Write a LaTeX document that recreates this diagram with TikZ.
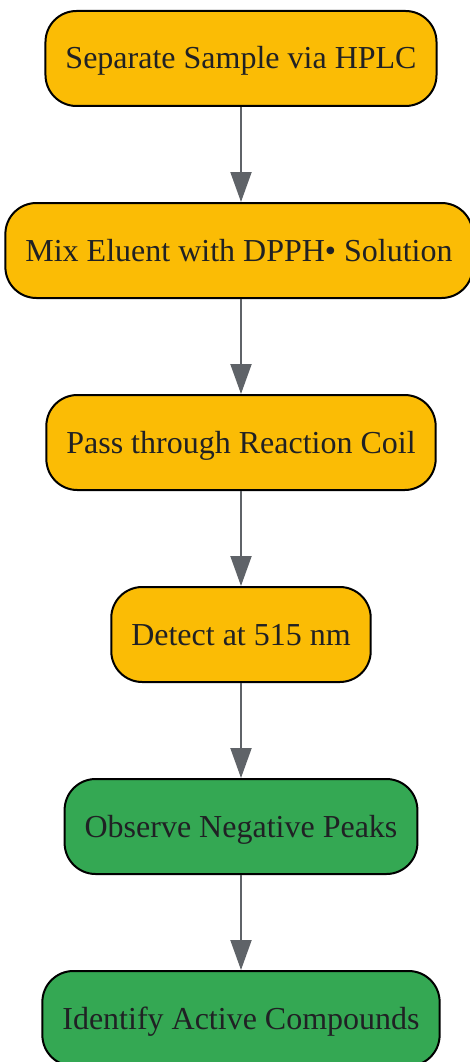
\documentclass[tikz,border=0pt]{standalone}
\usepackage{fontspec}
\setmainfont{Liberation Serif}
\usetikzlibrary{arrows.meta}
\definecolor{stepyellow}{HTML}{FBBC05}
\definecolor{stepgreen}{HTML}{34A853}
\definecolor{arrowgray}{HTML}{5F6368}
\definecolor{textgray}{HTML}{202124}
\tikzset{
  stepbox/.style={draw=black, line width=2pt, rounded corners=31pt, minimum height=95pt,
    inner xsep=20pt, text height=28pt, text depth=7pt, text=textgray,
    font=\fontsize{32}{38}\selectfont},
  flow/.style={-{Triangle[length=30pt,width=21pt]}, arrowgray, line width=2pt}
}
\begin{document}
\begin{tikzpicture}
\useasboundingbox (0,0) rectangle (470pt,-1062pt);
\node[stepbox, fill=stepyellow] at (241pt,-58.5pt) (hplc){Separate Sample via HPLC};
\node[stepbox, fill=stepyellow] at (239pt,-250.5pt) (mix){Mix Eluent with DPPH• Solution};
\node[stepbox, fill=stepyellow] at (241pt,-442.5pt) (coil){Pass through Reaction Coil};
\node[stepbox, fill=stepyellow] at (241pt,-634.5pt) (detect){Detect at 515 nm};
\node[stepbox, fill=stepgreen] at (241pt,-826.5pt) (peaks){Observe Negative Peaks};
\node[stepbox, fill=stepgreen] at (241pt,-1018.5pt) (identify){Identify Active Compounds};

\draw[flow] (hplc.south) -- (hplc.south |- mix.north); % mixing
\draw[flow] (hplc.south |- mix.south) -- (coil.north);
\draw[flow] (coil) -- (detect);
\draw[flow] (detect) -- (peaks);
\draw[flow] (peaks) -- (identify); %result

\end{tikzpicture}
\end{document}
